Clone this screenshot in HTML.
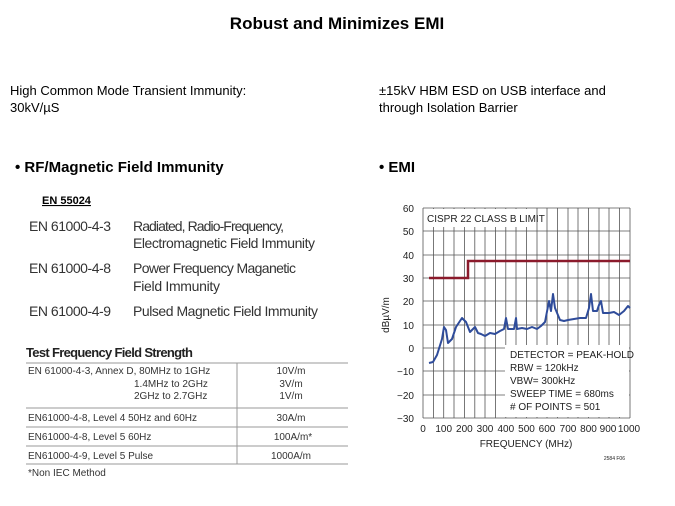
<!DOCTYPE html>
<html><head><style>body{margin:0;background:#fff}svg{display:block}</style></head><body>
<svg width="675" height="506" xmlns="http://www.w3.org/2000/svg" font-family="Liberation Sans, Arial, sans-serif">
<text x="337" y="29" text-anchor="middle" font-size="17" font-weight="bold">Robust and Minimizes EMI</text>
<text x="10" y="95" font-size="13">High Common Mode Transient Immunity:</text>
<text x="10" y="112" font-size="13">30kV/µS</text>
<text x="379" y="95" font-size="13">±15kV HBM ESD on USB interface and</text>
<text x="379" y="112" font-size="13">through Isolation Barrier</text>
<text x="15" y="172" font-size="15" font-weight="bold">•  RF/Magnetic Field  Immunity</text>
<text x="379" y="172" font-size="15" font-weight="bold">•  EMI</text>
<text x="42" y="204" font-size="11" font-weight="bold" text-decoration="underline">EN 55024</text>
<g font-size="14" fill="#333">
<text x="29" y="231" textLength="82">EN 61000-4-3</text>
<text x="133" y="231" textLength="151">Radiated, Radio-Frequency,</text>
<text x="133" y="248" textLength="182">Electromagnetic Field Immunity</text>
<text x="29" y="273" textLength="82">EN 61000-4-8</text>
<text x="133" y="273" textLength="163">Power Frequency Maganetic</text>
<text x="133" y="291" textLength="87">Field Immunity</text>
<text x="29" y="316" textLength="82">EN 61000-4-9</text>
<text x="133" y="316" textLength="185">Pulsed Magnetic Field Immunity</text>
</g>
<text x="26" y="357" font-size="13" font-weight="bold" fill="#222" textLength="167">Test Frequency Field Strength</text>
<g stroke="#999" stroke-width="1">
<line x1="26" y1="363" x2="348" y2="363"/>
<line x1="26" y1="408" x2="348" y2="408"/><line x1="26" y1="427" x2="348" y2="427"/>
<line x1="26" y1="446" x2="348" y2="446"/><line x1="26" y1="464" x2="348" y2="464"/>
<line x1="237" y1="363" x2="237" y2="464"/>
</g>
<g font-size="10" fill="#333">
<text x="28" y="374">EN 61000-4-3, Annex D, 80MHz to 1GHz</text>
<text x="134" y="387">1.4MHz to 2GHz</text>
<text x="134" y="399">2GHz to 2.7GHz</text>
<text x="28" y="421">EN61000-4-8, Level 4 50Hz and 60Hz</text>
<text x="28" y="440">EN61000-4-8, Level 5 60Hz</text>
<text x="28" y="459">EN61000-4-9, Level 5 Pulse</text>
<text x="28" y="476">*Non IEC Method</text>
<g text-anchor="middle"><text x="291" y="374">10V/m</text><text x="291" y="387">3V/m</text><text x="291" y="399">1V/m</text>
<text x="291" y="421">30A/m</text><text x="293" y="440">100A/m*</text><text x="291" y="459">1000A/m</text></g>
</g>
<g stroke="#555" stroke-width="0.8">
<line x1="423" y1="208" x2="630" y2="208"/><line x1="423" y1="231" x2="630" y2="231"/>
<line x1="423" y1="255" x2="630" y2="255"/><line x1="423" y1="278" x2="630" y2="278"/>
<line x1="423" y1="301" x2="630" y2="301"/><line x1="423" y1="325" x2="630" y2="325"/>
<line x1="423" y1="348" x2="630" y2="348"/><line x1="423" y1="371" x2="630" y2="371"/>
<line x1="423" y1="395" x2="630" y2="395"/><line x1="423" y1="418" x2="630" y2="418"/>
<line x1="423" y1="208" x2="423" y2="418"/><line x1="630" y1="208" x2="630" y2="418"/>
<line x1="433.4" y1="208" x2="433.4" y2="418"/><line x1="443.7" y1="208" x2="443.7" y2="418"/><line x1="454" y1="208" x2="454" y2="418"/><line x1="464.4" y1="208" x2="464.4" y2="418"/><line x1="474.8" y1="208" x2="474.8" y2="418"/><line x1="485" y1="208" x2="485" y2="418"/><line x1="495.5" y1="208" x2="495.5" y2="418"/><line x1="505.8" y1="208" x2="505.8" y2="418"/><line x1="516" y1="208" x2="516" y2="418"/><line x1="526.5" y1="208" x2="526.5" y2="418"/><line x1="537" y1="208" x2="537" y2="418"/><line x1="547" y1="208" x2="547" y2="418"/><line x1="557.5" y1="208" x2="557.5" y2="418"/><line x1="568" y1="208" x2="568" y2="418"/><line x1="578" y1="208" x2="578" y2="418"/><line x1="588.5" y1="208" x2="588.5" y2="418"/><line x1="599" y1="208" x2="599" y2="418"/><line x1="609" y1="208" x2="609" y2="418"/><line x1="619.5" y1="208" x2="619.5" y2="418"/>
</g>
<rect x="424" y="209" width="106" height="18" fill="#fff"/>
<rect x="505" y="345" width="124" height="72" fill="#fff"/>
<text x="427" y="222" font-size="10" fill="#222">CISPR 22 CLASS B LIMIT</text>
<g font-size="10" fill="#222">
<text x="510" y="358">DETECTOR = PEAK-HOLD</text>
<text x="510" y="371">RBW = 120kHz</text>
<text x="510" y="384">VBW= 300kHz</text>
<text x="510" y="397">SWEEP TIME = 680ms</text>
<text x="510" y="410"># OF POINTS = 501</text>
</g>
<polyline fill="none" stroke="#8b1a2b" stroke-width="2.5" points="429,278 468,278 468,261 630,261"/>
<polyline fill="none" stroke="#2f4c9a" stroke-width="2" stroke-linejoin="round" points="429,363 433,362 437,355 442,339 444,327 446,330 448,343 452,339 456,327 462,318 466,322 470,332 475,327 478,333 481,334 485,336 490,333 495,334 500,331 504,329 506,318 508,329 514,329 516,318 517,329 522,328 527,329 532,327 537,329 541,326 545,322 549,301 551,311 553,294 555,308 560,320 564,321 568,320 574,319 580,318 586,318 589,308 591,294 593,311 597,311 599,305 601,301 603,313 609,313 614,312 619,315 624,311 628,306 630,308"/>
<g font-size="10" fill="#222" text-anchor="end">
<text x="414" y="212">60</text><text x="414" y="235">50</text><text x="414" y="259">40</text><text x="414" y="282">30</text><text x="414" y="305">20</text><text x="414" y="329">10</text><text x="414" y="352">0</text><text x="414" y="375">−10</text><text x="414" y="399">−20</text><text x="414" y="422">−30</text>
</g>
<g font-size="10" fill="#222" text-anchor="middle">
<text x="423" y="432">0</text><text x="443.7" y="432">100</text><text x="464.4" y="432">200</text><text x="485" y="432">300</text><text x="505.8" y="432">400</text><text x="526.5" y="432">500</text><text x="547" y="432">600</text><text x="568" y="432">700</text><text x="588.5" y="432">800</text><text x="608" y="432">900</text><text x="629" y="432">1000</text>
<text x="526" y="447">FREQUENCY (MHz)</text>
</g>
<text x="625" y="460" font-size="5" text-anchor="end" fill="#222">2584 F06</text>
<text transform="translate(389,315) rotate(-90)" font-size="10" text-anchor="middle" fill="#222">dBµV/m</text>
</svg>
</body></html>
